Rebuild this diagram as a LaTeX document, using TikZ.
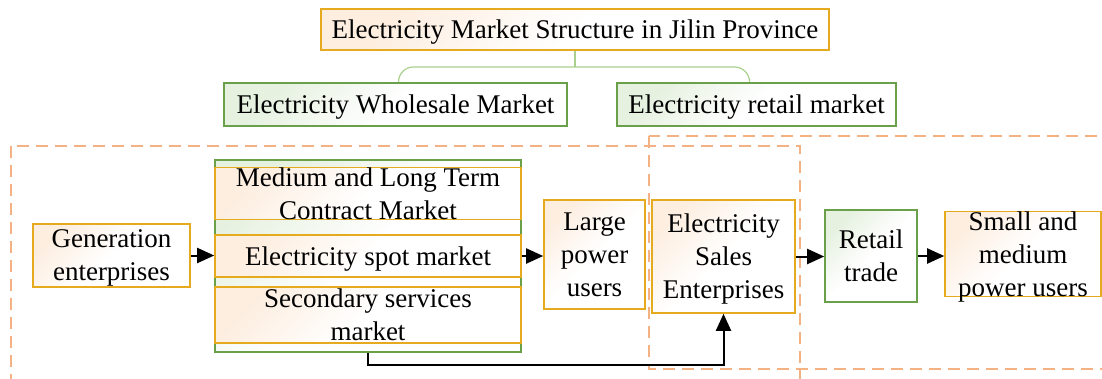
\documentclass[tikz,border=0pt]{standalone}
\usepackage{fontspec}
\setmainfont{Liberation Serif}
\usetikzlibrary{positioning, arrows.meta}

\definecolor{boxorange}{RGB}{229,170,30}
\definecolor{boxgreen}{RGB}{106,160,74}
\definecolor{dashorange}{RGB}{244,177,131}
\definecolor{linkgreen}{RGB}{169,209,142}
\definecolor{peach}{RGB}{253,238,224}
\definecolor{palegreen}{RGB}{230,241,224}

\tikzset{
  obox/.style={draw=boxorange, line width=1.6pt, top color=peach, bottom color=white, middle color=white, shading angle=45},
  gbox/.style={draw=boxgreen, line width=1.6pt, top color=palegreen, bottom color=white, middle color=white, shading angle=45},
  flow/.style={line width=2pt, -{Triangle[length=17pt, width=15pt]}},
  zone/.style={draw=dashorange, line width=1.4pt, dash pattern=on 12pt off 7pt},
  link/.style={draw=linkgreen, line width=1.2pt}
}

\begin{document}
\begin{tikzpicture}[x=1pt, y=-1pt, every node/.style={font=\fontsize{27}{33}\selectfont, align=center, inner sep=0pt, text depth=0pt}]
    \useasboundingbox (0,0) rectangle (1102,378);

    % Dashed zones: wholesale side and retail side
    \draw[zone] (11,146) rectangle (800,392);
    \draw[zone] (649,136) rectangle (1115,369);

    % 1. Top level structure
    \node[obox, minimum width=508, minimum height=41] (title) at (575,29.5) {Electricity Market Structure in Jilin Province};
    \node[gbox, minimum width=343, minimum height=43] (wsmkt) at (395.5,104.5) {Electricity Wholesale Market};
    \node[gbox, minimum width=279, minimum height=43] (rtmkt) at (756.5,104.5) {Electricity retail market};

    \coordinate (T_JOIN) at (575,67);   % branch point
    \draw[link] (title.south) -- (T_JOIN);
    \draw[link, rounded corners=15pt] (T_JOIN) -| ([xshift=3pt]wsmkt.north);
    \draw[link, rounded corners=15pt] (T_JOIN) -| ([xshift=-7pt]rtmkt.north);

    % 2. Wholesale side
    \node[obox, minimum width=157, minimum height=63] (gen) at (111.5,255.5) {Generation\\enterprises};
    \node[gbox, minimum width=306, minimum height=192] (pool) at (368,256) {};
    \node[obox, minimum width=306, minimum height=51] (mlt) at (368,193.5) {Medium and Long Term\\Contract Market};
    \node[obox, minimum width=306, minimum height=42] (spot) at (368,256) {Electricity spot market};
    \node[obox, minimum width=306, minimum height=56] (aux) at (368,315) {Secondary services\\market};
    \node[obox, minimum width=101, minimum height=109] (large) at (594.5,254.5) {Large\\power\\users};

    % 3. Retail side
    \node[obox, minimum width=143, minimum height=113] (sales) at (723.5,256.5) {Electricity\\Sales\\Enterprises};
    \node[gbox, minimum width=92, minimum height=92] (trade) at (871,256) {Retail\\trade};
    \node[obox, minimum width=156, minimum height=84] (small) at (1023,254) {Small and\\medium\\power users};

    % 4. Flows
    \draw[flow] (gen.east) -- (gen.east -| pool.west);
    \draw[flow] (spot.east) -- (spot.east -| large.west);
    \draw[flow] (sales.east) -- (sales.east -| trade.west);
    \draw[flow] (trade.east) -- (trade.east -| small.west);
    \draw[flow] (pool.south) -- ++(0,12) -| (sales.south);

\end{tikzpicture}
\end{document}
